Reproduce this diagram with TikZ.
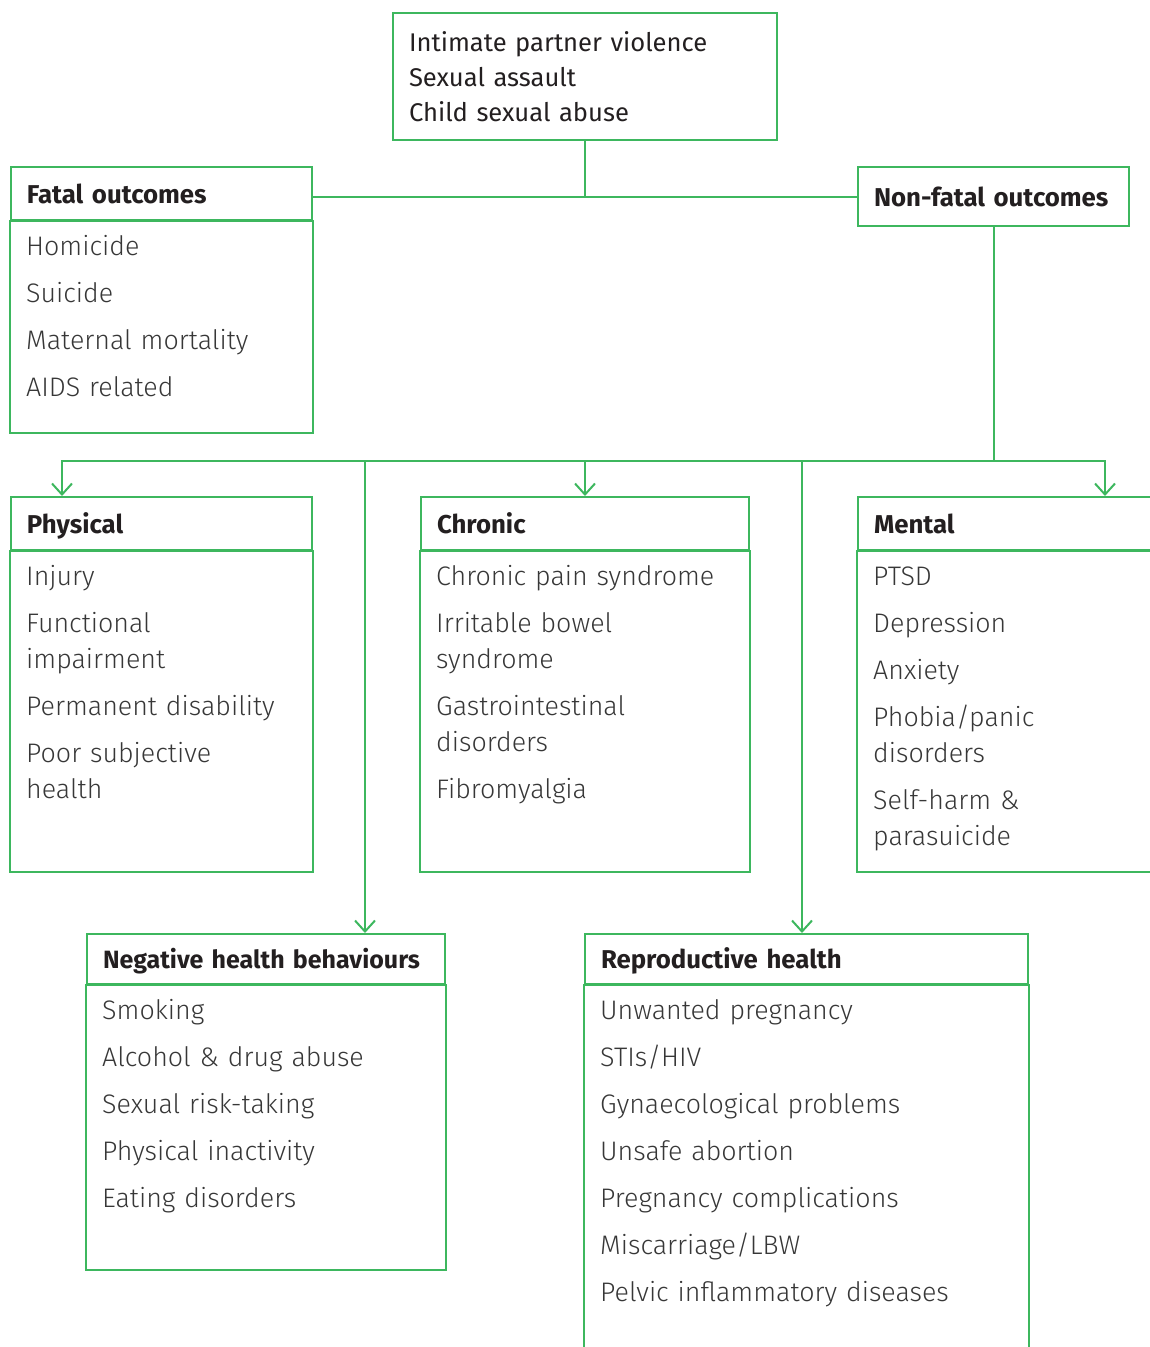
\documentclass[tikz,border=0pt]{standalone}
\usepackage{fontspec}
\setmainfont{Fira Sans}
\newfontfamily\lightfont{Fira Sans Light}
\usetikzlibrary{arrows.meta}
\definecolor{ivgreen}{RGB}{61,183,94}
\definecolor{hdtext}{RGB}{35,31,32}
\definecolor{itemtext}{RGB}{55,55,55}

\tikzset{
  frame/.style={draw=ivgreen, line width=2pt},
  hdbox/.style={frame, anchor=north west, inner xsep=16pt, inner ysep=0pt,
    minimum height=53pt, text width=#1, align=left, text height=22pt, text depth=3pt,
    font=\fontsize{25.8}{30}\selectfont\bfseries, text=hdtext},
  items/.style={anchor=north west, inner xsep=16pt, inner ysep=9pt, text width=#1,
    align=left, font=\lightfont\fontsize{26.8}{36}\selectfont, text=itemtext},
  link/.style={ivgreen, line width=2pt},
  barb/.tip={Straight Barb[length=11pt,width=20pt]},
}

\begin{document}
\begin{tikzpicture}[x=1pt,y=-1pt]
\clip (0,0) rectangle (1150,1347);

% violence types
\node[frame, anchor=north west, inner xsep=16pt, text width=352pt, minimum height=127pt,
  align=left, font=\fontsize{25.6}{35}\selectfont, text=hdtext] (top) at (392,12)
  {Intimate partner violence\\Sexual assault\\Child sexual abuse};

% fatal
\node[hdbox=269pt] (fatalhd) at (10,166) {Fatal outcomes};
\node[items=269pt] (fatal) at (fatalhd.south west)
  {\strut Homicide\\[11pt]Suicide\\[11pt]Maternal mortality\\[11pt]AIDS related};
\draw[frame] (fatalhd.south west) rectangle (fatalhd.east |- 0,433);

% non-fatal
\node[hdbox=239pt, minimum height=59pt] (nonfatal) at (857,166) {Non-fatal outcomes};

% physical
\node[hdbox=269pt] (physhd) at (10,496) {Physical};
\node[items=269pt] (phys) at (physhd.south west)
  {\strut Injury\\[11pt]Functional\\impairment\\[11pt]Permanent disability\\[11pt]Poor subjective\\health};
\draw[frame] (physhd.south west) rectangle (physhd.east |- 0,872);

% chronic
\node[hdbox=296pt] (chronhd) at (420,496) {Chronic};
\node[items=296pt] (chron) at (chronhd.south west)
  {\strut Chronic pain syndrome\\[11pt]Irritable bowel\\syndrome\\[11pt]Gastrointestinal\\disorders\\[11pt]Fibromyalgia};
\draw[frame] (chronhd.south west) rectangle (chronhd.east |- 0,872);

% mental
\node[hdbox=330pt] (mentalhd) at (857,496) {Mental};
\node[items=330pt] (mental) at (mentalhd.south west)
  {\strut PTSD\\[11pt]Depression\\[11pt]Anxiety\\[11pt]Phobia/panic\\disorders\\[11pt]Self-harm \&\\parasuicide};
\draw[frame] (mentalhd.south west) rectangle (mentalhd.east |- 0,872);

% behaviours
\node[hdbox=326pt, minimum height=50pt, font=\fontsize{25}{30}\selectfont\bfseries] (neghd) at (86,933)
  {Negative health behaviours};
\node[items=326pt] (neg) at (neghd.south west)
  {\strut Smoking\\[11pt]Alcohol \& drug abuse\\[11pt]Sexual risk-taking\\[11pt]Physical inactivity\\[11pt]Eating disorders};
\draw[frame] (neghd.south west) rectangle (neghd.east |- 0,1270);

% reproductive
\node[hdbox=411pt, minimum height=50pt] (rephd) at (584,933) {Reproductive health};
\node[items=411pt] (rep) at (rephd.south west)
  {\strut Unwanted pregnancy\\[11pt]STIs/HIV\\[11pt]Gynaecological problems\\[11pt]Unsafe abortion\\[11pt]Pregnancy complications\\[11pt]Miscarriage/LBW\\[11pt]Pelvic inflammatory diseases};
\draw[frame] (rephd.south west) rectangle (rephd.east |- 0,1400);

% connectors
\coordinate (busL) at (62,461);
\coordinate (busR) at (1105,461);
\coordinate (tapneg) at (365,461);
\coordinate (taprep) at (802,461);
\draw[link] (top.south) -- (top.south |- nonfatal.west);
\draw[link] (fatalhd.east |- nonfatal.west) -- (nonfatal.west);
\draw[link] (nonfatal.south) -- (nonfatal.south |- busR);
\draw[link, barb-barb] (busL |- physhd.north) -- (busL) -- (busR) -- (busR |- mentalhd.north);
\draw[link, -barb] (chronhd.north |- busL) -- (chronhd.north);
\draw[link, -barb] (tapneg) -- (tapneg |- neghd.north);
\draw[link, -barb] (taprep) -- (taprep |- rephd.north);
\end{tikzpicture}
\end{document}
